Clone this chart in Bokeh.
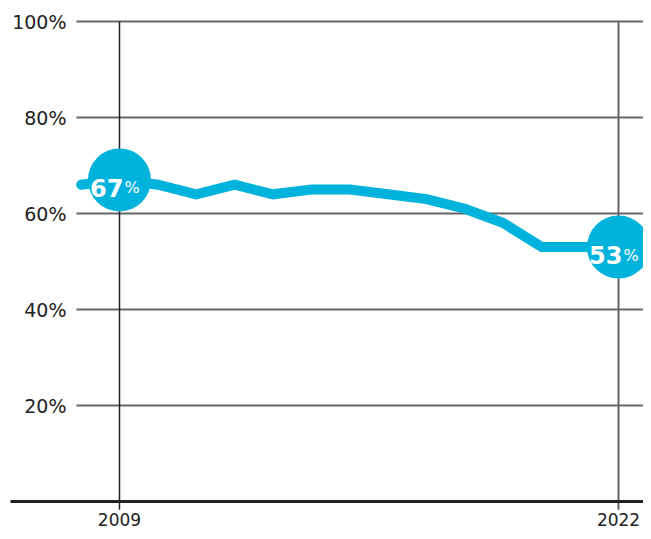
from bokeh.plotting import figure
from bokeh.models import Range1d
from bokeh.core.properties import value
from bokeh.embed import file_html
from bokeh.resources import INLINE

# ---- data ----
years = [2008, 2009, 2010, 2011, 2012, 2013, 2014, 2015, 2016, 2017, 2018, 2019, 2020, 2021, 2022]
share = [66, 67, 66, 64, 66, 64, 65, 65, 64, 63, 61, 58, 53, 53, 53]
y_ticks = [20, 40, 60, 80, 100]
y_tick_labels = ["20%", "40%", "60%", "80%", "100%"]
x_ticks = [2009, 2022]
x_tick_labels = ["2009", "2022"]
marked_years = [2009, 2022]
marked_values = [67, 53]

CYAN = "#00b3dc"
FONT = "DejaVu Sans"

p = figure(width=643, height=531, output_backend="svg", toolbar_location=None,
           x_range=Range1d(2005.900, 2022.651), y_range=Range1d(-6.25, 104.375),
           x_axis_location=None, y_axis_location=None, min_border=0,
           outline_line_color=None)
p.grid.visible = False

# horizontal gridlines
p.segment(x0=[2007.88] * len(y_ticks), x1=[2022.651] * len(y_ticks), y0=y_ticks, y1=y_ticks,
          line_color="#666666", line_width=2)
# y labels
p.text(x=[2007.619] * len(y_ticks), y=y_ticks, text=y_tick_labels, text_align="right",
       text_baseline="middle", text_font=value(FONT), text_font_size="19px", text_color="#222222")

# vertical year lines
p.segment(x0=x_ticks, x1=x_ticks, y0=[100, 100], y1=[-1.7, -1.7],
          line_color=["#222222", "#666666"], line_width=[1.5, 2])
# baseline
p.segment(x0=[2006.16], x1=[2022.651], y0=[0], y1=[0], line_color="#222222", line_width=3)
# year labels
p.text(x=x_ticks, y=[-3.7, -3.7], text=x_tick_labels, text_align="center",
       text_baseline="middle", text_font=value(FONT), text_font_size="17px", text_color="#222222")

# data line
p.line(years, share, line_color=CYAN, line_width=10, line_cap="round", line_join="miter")
# end circles
p.scatter(marked_years, marked_values, size=63, fill_color=CYAN, line_color=None)
p.text(x=marked_years, y=marked_values, text=[str(v) for v in marked_values], text_align="right",
       text_baseline="alphabetic", x_offset=4, y_offset=8, text_font=value(FONT),
       text_font_style="bold", text_font_size="24px", text_color="white")
p.text(x=marked_years, y=marked_values, text=["%", "%"], text_align="left",
       text_baseline="alphabetic", x_offset=5, y_offset=8, text_font=value(FONT),
       text_font_size="16px", text_color="white")

open("out.html", "w").write(file_html(p, INLINE))
